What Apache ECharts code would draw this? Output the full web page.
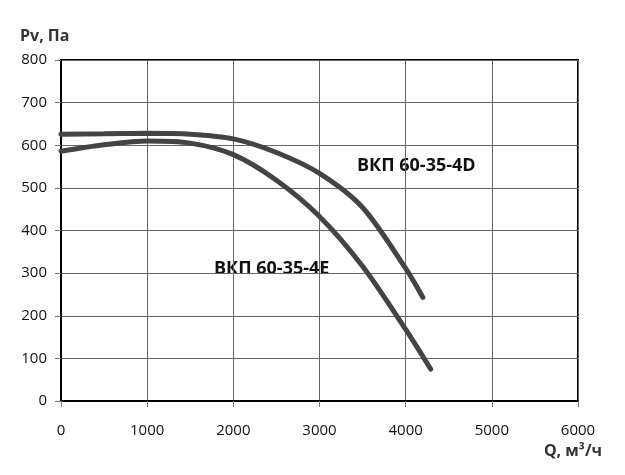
<!DOCTYPE html>
<html>
<head>
<meta charset="utf-8">
<script src="https://cdn.jsdelivr.net/npm/echarts@6/dist/echarts.min.js"></script>
<style>
  html, body { margin: 0; padding: 0; background: #fff; }
  #chart { width: 625px; height: 475px; }
</style>
</head>
<body>
<div id="chart"></div>
<script>
  // расход, м3/ч и полное давление, Па
  var q_d = [0, 500, 1000, 1500, 2000, 2500, 3000, 3500, 4000, 4200]
  var pv_d = [626, 627, 628, 626, 615, 583, 534, 454, 311, 243]
  var q_e = [0, 500, 1000, 1500, 2000, 2500, 3000, 3500, 4000, 4290]
  var pv_e = [586, 601, 610, 605, 578, 518, 433, 316, 168, 75]
  var name_d = 'ВКП 60-35-4D'
  var name_e = 'ВКП 60-35-4E'

  var font = '"Open Sans", "Noto Sans", sans-serif'

  function pairs(xs, ys) {
    let out = []
    xs.map((x, i) => {
      out.push([x, ys[i]])
    })
    return out
  }

  var chart = echarts.init(document.getElementById('chart'), null, { renderer: 'canvas' })
  chart.setOption({
    animation: false,
    grid: {
      left: 61, right: 47, top: 60, bottom: 74,
      show: true,
      borderColor: '#000',
      borderWidth: 2
    },
    xAxis: {
      type: 'value',
      min: 0, max: 6000, interval: 1000,
      axisLine: { show: true, lineStyle: { color: '#000', width: 2 } },
      axisTick: { show: true, length: 6, lineStyle: { color: '#777' } },
      axisLabel: { color: '#111', fontSize: 15, fontFamily: font, margin: 22, formatter: v => String(v) },
      splitLine: { lineStyle: { color: '#666', width: 1 } }
    },
    yAxis: {
      type: 'value',
      min: 0, max: 800, interval: 100,
      axisLine: { show: true, lineStyle: { color: '#000', width: 2 } },
      axisTick: { show: true, length: 6, lineStyle: { color: '#777' } },
      axisLabel: { color: '#111', fontSize: 15, fontFamily: font, margin: 14 },
      splitLine: { lineStyle: { color: '#666', width: 1 } }
    },
    series: [
      {
        name: name_d,
        type: 'line',
        smooth: 0.3,
        symbol: 'none',
        lineStyle: { color: '#444', width: 5, cap: 'round' },
        data: pairs(q_d, pv_d)
      },
      {
        name: name_e,
        type: 'line',
        smooth: 0.3,
        symbol: 'none',
        lineStyle: { color: '#444', width: 5, cap: 'round' },
        data: pairs(q_e, pv_e)
      }
    ],
    graphic: [
      { type: 'text', left: 20, top: 28, style: { text: 'Pv, Па', font: 'bold 16px ' + font, fill: '#333' } },
      { type: 'text', right: 23, top: 443, style: { text: 'Q, м³/ч', font: 'bold 16px ' + font, fill: '#333' } },
      { type: 'text', left: 357, top: 157, style: { text: name_d, font: 'bold 18px ' + font, fill: '#111' } },
      { type: 'text', left: 214, top: 260, style: { text: name_e, font: 'bold 18px ' + font, fill: '#111' } }
    ]
  })
</script>
</body>
</html>
